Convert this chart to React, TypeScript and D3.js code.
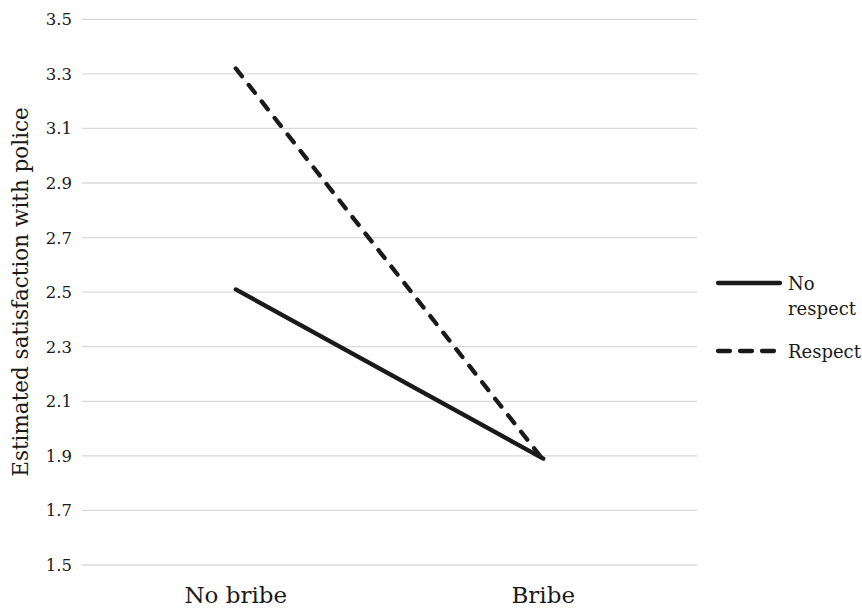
import { useMemo } from "react";
import * as d3 from "d3";

const categories = ["No bribe", "Bribe"];
const noRespect = [2.51, 1.89];
const respect = [3.32, 1.885];
const yTicks = [1.5, 1.7, 1.9, 2.1, 2.3, 2.5, 2.7, 2.9, 3.1, 3.3, 3.5];

const W = 862;
const H = 610;
const PLOT = { left: 82, right: 697, top: 19.3, bottom: 565 };
const FONT = "DejaVu Serif, Liberation Serif, serif";

export default function App() {
  const x = useMemo(
    () => d3.scalePoint<string>().domain(categories).range([PLOT.left, PLOT.right]).padding(0.5),
    []
  );
  const y = useMemo(
    () => d3.scaleLinear().domain([1.5, 3.5]).range([PLOT.bottom, PLOT.top]),
    []
  );
  const line = d3
    .line<number>()
    .x((_, i) => x(categories[i]) as number)
    .y((d) => y(d));

  const series = [
    { name: ["No", "respect"], values: noRespect, dash: undefined as string | undefined },
    { name: ["Respect"], values: respect, dash: "10 11" },
  ];

  return (
    <svg
      width={W}
      height={H}
      style={{ position: "absolute", left: 0, top: 0, background: "#fff", fontFamily: FONT }}
    >
      {/* gridlines + y ticks */}
      {yTicks.map((t) => (
        <g key={t}>
          <line x1={PLOT.left} x2={PLOT.right} y1={y(t)} y2={y(t)} stroke="#d9d9d9" strokeWidth={1.3} />
          <text x={72} y={y(t)} dy="0.36em" textAnchor="end" fontSize={16.5} fill="#1a1a1a">
            {t.toFixed(1)}
          </text>
        </g>
      ))}

      {/* x labels */}
      {categories.map((c) => (
        <text key={c} x={x(c)} y={603} textAnchor="middle" fontSize={23} fill="#1a1a1a">
          {c}
        </text>
      ))}

      {/* y title */}
      <text
        transform={`translate(28,292) rotate(-90)`}
        textAnchor="middle"
        fontSize={21.5}
        fill="#1a1a1a"
      >
        Estimated satisfaction with police
      </text>

      {/* lines */}
      {series.map((s) => (
        <path
          key={s.name.join(" ")}
          d={line(s.values) ?? ""}
          fill="none"
          stroke="#1a1a1a"
          strokeWidth={4.3}
          strokeLinecap="round"
          strokeDasharray={s.dash}
        />
      ))}

      {/* legend */}
      {series.map((s, i) => {
        const ly = i === 0 ? 283 : 351;
        return (
          <g key={"lg" + i}>
            <line
              x1={718}
              x2={s.dash ? 775 : 780}
              y1={ly}
              y2={ly}
              stroke="#1a1a1a"
              strokeWidth={4.3}
              strokeLinecap="round"
              strokeDasharray={s.dash ? "12 10" : undefined}
            />
            {s.name.map((n, j) => (
              <text key={n} x={788} y={ly + 7 + j * 25} fontSize={18} fill="#1a1a1a">
                {n}
              </text>
            ))}
          </g>
        );
      })}
    </svg>
  );
}
